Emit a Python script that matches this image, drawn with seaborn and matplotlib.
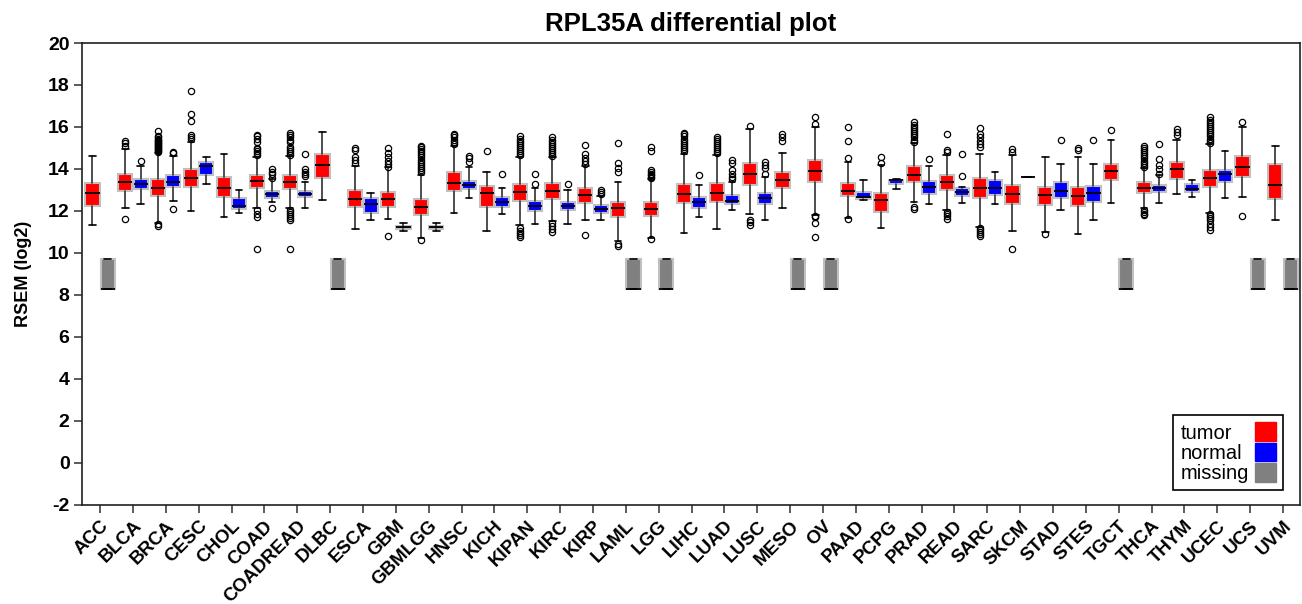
import matplotlib
matplotlib.use("Agg")
import matplotlib.pyplot as plt
from matplotlib.patches import Patch
import seaborn as sns

# ---------------- data ----------------
categories = ["ACC", "BLCA", "BRCA", "CESC", "CHOL", "COAD", "COADREAD", "DLBC", "ESCA", "GBM",
              "GBMLGG", "HNSC", "KICH", "KIPAN", "KIRC", "KIRP", "LAML", "LGG", "LIHC", "LUAD",
              "LUSC", "MESO", "OV", "PAAD", "PCPG", "PRAD", "READ", "SARC", "SKCM", "STAD",
              "STES", "TGCT", "THCA", "THYM", "UCEC", "UCS", "UVM"]

# tumor: (whisker low, q1, median, q3, whisker high)
tumor_stats = [
    (11.32, 12.25, 12.84, 13.35, 14.62), (12.13, 12.95, 13.37, 13.75, 14.95),
    (11.41, 12.71, 13.08, 13.54, 14.75), (12.00, 13.14, 13.57, 14.00, 15.30),
    (11.70, 12.65, 13.09, 13.62, 14.70), (12.13, 13.08, 13.41, 13.70, 14.59),
    (12.14, 13.07, 13.40, 13.71, 14.60), (12.52, 13.56, 14.17, 14.71, 15.76),
    (11.14, 12.18, 12.57, 13.02, 14.16), (11.62, 12.18, 12.56, 12.92, 14.08),
    (10.70, 11.83, 12.21, 12.59, 13.71), (11.92, 12.95, 13.35, 13.84, 15.11),
    (11.03, 12.18, 12.84, 13.19, 13.84), (11.33, 12.49, 12.90, 13.30, 14.59),
    (11.52, 12.59, 12.97, 13.35, 14.55), (11.59, 12.40, 12.76, 13.11, 14.16),
    (10.57, 11.70, 12.13, 12.43, 13.40), (10.70, 11.75, 12.08, 12.43, 13.51),
    (10.94, 12.37, 12.81, 13.30, 14.70), (11.16, 12.44, 12.87, 13.35, 14.67),
    (11.84, 13.24, 13.76, 14.27, 15.90), (12.13, 13.08, 13.46, 13.87, 14.76),
    (11.81, 13.40, 13.90, 14.43, 16.02), (11.68, 12.70, 12.95, 13.33, 14.32),
    (11.21, 11.95, 12.51, 12.87, 14.19), (12.41, 13.40, 13.71, 14.14, 15.22),
    (12.05, 13.00, 13.38, 13.71, 14.67), (11.25, 12.63, 13.11, 13.56, 14.71),
    (11.03, 12.35, 12.81, 13.24, 14.67), (11.02, 12.27, 12.76, 13.16, 14.56),
    (10.89, 12.24, 12.70, 13.14, 14.56), (12.38, 13.46, 13.90, 14.25, 15.37),
    (12.13, 12.86, 13.08, 13.38, 14.06), (12.83, 13.52, 13.98, 14.32, 15.40),
    (11.89, 13.16, 13.56, 13.95, 15.19), (12.67, 13.63, 14.08, 14.63, 16.02),
    (11.57, 12.57, 13.25, 14.24, 15.11),
]
tumor_outliers = [
    [],
    [15.11, 15.22, 15.33, 11.63],
    [14.80, 14.85, 14.90, 14.95, 15.00, 15.05, 15.10, 15.15, 15.20, 15.25, 15.30, 15.35, 15.40,
     15.45, 15.50, 15.55, 15.82, 11.38, 11.30],
    [15.43, 15.51, 15.62, 16.27, 16.63, 17.71],
    [],
    [14.67, 14.75, 14.85, 14.95, 15.00, 15.30, 15.45, 15.55, 15.62, 12.05, 11.84, 11.73, 10.21],
    [14.67, 14.75, 14.85, 14.95, 15.05, 15.30, 15.40, 15.50, 15.60, 15.70,
     12.05, 11.95, 11.85, 11.75, 11.65, 11.58, 10.21],
    [],
    [14.30, 14.45, 14.55, 14.90, 15.00],
    [14.11, 14.25, 14.40, 14.55, 14.75, 14.98, 10.79],
    [13.87, 13.95, 14.05, 14.15, 14.25, 14.35, 14.45, 14.55, 14.65, 14.75, 14.85, 14.95, 15.05,
     15.10, 10.63],
    [15.20, 15.30, 15.40, 15.50, 15.60, 15.65],
    [14.84],
    [14.67, 14.75, 14.85, 14.95, 15.05, 15.15, 15.25, 15.35, 15.45, 15.57,
     11.17, 11.05, 10.95, 10.85, 10.78],
    [14.62, 14.70, 14.80, 14.90, 15.00, 15.10, 15.20, 15.30, 15.40, 15.54,
     11.45, 11.30, 11.15, 11.02],
    [14.25, 14.38, 14.54, 14.70, 15.16, 10.86],
    [13.87, 14.06, 14.27, 15.25, 10.45, 10.35],
    [13.55, 13.62, 13.70, 13.78, 13.86, 13.95, 14.86, 15.06, 10.65],
    [14.86, 14.95, 15.05, 15.15, 15.25, 15.35, 15.45, 15.55, 15.65, 15.73],
    [14.75, 14.85, 14.95, 15.05, 15.15, 15.25, 15.35, 15.45, 15.52],
    [16.03, 11.57, 11.46, 11.33],
    [15.35, 15.51, 15.65],
    [16.16, 16.46, 11.78, 11.70, 11.44, 10.75],
    [14.51, 15.32, 16.00, 11.63],
    [14.27, 14.59],
    [15.30, 15.40, 15.50, 15.60, 15.70, 15.80, 15.90, 16.00, 16.10, 16.25, 12.17, 12.08],
    [14.79, 14.90, 15.65, 11.97, 11.85, 11.75, 11.62],
    [15.06, 15.20, 15.35, 15.50, 15.65, 15.94, 11.21, 11.10, 11.00, 10.90, 10.79],
    [14.79, 14.95, 10.21],
    [10.89],
    [14.92, 15.02],
    [15.86],
    [14.11, 14.20, 14.30, 14.40, 14.50, 14.60, 14.70, 14.80, 14.90, 15.00, 15.10,
     12.05, 11.95, 11.88, 11.81],
    [15.62, 15.78, 15.90],
    [15.22, 15.35, 15.45, 15.55, 15.65, 15.75, 15.85, 15.95, 16.05, 16.15, 16.25, 16.35, 16.49,
     11.84, 11.75, 11.65, 11.55, 11.40, 11.25, 11.10],
    [16.22, 11.78],
    [],
]

# normal: (whisker low, q1, median, q3, whisker high); None = missing
normal_stats = [
    None, (12.32, 13.06, 13.29, 13.54, 14.16), (12.46, 13.16, 13.38, 13.73, 14.63),
    (13.27, 13.71, 14.16, 14.32, 14.56), (11.90, 12.09, 12.25, 12.64, 13.00),
    (12.44, 12.64, 12.81, 12.94, 13.52), (12.14, 12.65, 12.83, 12.97, 13.40), None,
    (11.57, 11.92, 12.33, 12.60, 12.87), (11.06, 11.14, 11.22, 11.30, 11.41),
    (11.06, 11.14, 11.22, 11.30, 11.41), (12.60, 13.03, 13.22, 13.44, 14.08),
    (11.86, 12.21, 12.43, 12.68, 13.08), (11.40, 12.02, 12.24, 12.48, 13.08),
    (11.40, 12.03, 12.25, 12.44, 13.00), (11.59, 11.90, 12.09, 12.27, 12.73), None, None,
    (11.70, 12.14, 12.43, 12.65, 13.24), (12.05, 12.32, 12.46, 12.76, 13.37),
    (11.59, 12.33, 12.62, 12.87, 13.63), None, None, (12.52, 12.57, 12.67, 12.92, 13.48),
    (13.05, 13.30, 13.46, 13.49, 13.51), (12.32, 12.81, 13.16, 13.44, 14.14),
    (12.37, 12.73, 12.89, 13.08, 13.16), (12.35, 12.76, 13.11, 13.46, 13.86),
    (13.63, 13.63, 13.63, 13.63, 13.63), (12.06, 12.62, 12.95, 13.40, 14.22),
    (11.57, 12.44, 12.84, 13.17, 14.22), None, (12.40, 12.89, 13.10, 13.22, 13.71),
    (12.67, 12.90, 13.06, 13.29, 13.49), (12.63, 13.38, 13.75, 13.97, 14.87), None, None,
]
normal_outliers = [
    [], [14.38], [14.75, 14.80, 12.11], [], [], [13.56, 13.76, 13.87, 13.98, 12.14],
    [13.65, 13.76, 13.87, 13.98, 14.71], [], [], [], [], [14.32, 14.51, 14.63], [13.75],
    [13.30, 13.75], [13.29], [12.79, 12.89, 13.00], [], [], [13.71],
    [13.52, 13.63, 13.76, 13.95, 14.27, 14.41], [13.78, 14.05, 14.19, 14.32], [], [], [], [],
    [14.49], [13.68, 14.71], [], [], [15.37], [15.37], [], [13.78, 14.00, 14.19, 14.46, 15.21],
    [], [], [], [],
]

missing_range = (8.3, 9.7)
yticks = list(range(-2, 21, 2))

# ---------------- style ----------------
sns.set_theme(style="white")
plt.rcParams["font.family"] = ["Liberation Sans", "DejaVu Sans"]
for k in ["text.color", "axes.labelcolor", "xtick.color", "ytick.color"]:
    plt.rcParams[k] = "black"

RED, BLUE, GRAY = "#ff0000", "#0000ff", "#808080"
EDGE = "#c0c0c0"

fig = plt.figure(figsize=(13.02, 6.04), dpi=100)
ax = fig.add_axes([0.063, 0.164, 0.9355, 0.7648])

def to_dict(st, fl):
    lo, q1, med, q3, hi = st
    return dict(whislo=lo, q1=q1, med=med, q3=q3, whishi=hi, fliers=fl)

def draw(stats, positions, face):
    if not stats:
        return
    ax.bxp(stats, positions=positions, widths=0.43, capwidths=0.2, patch_artist=True,
           showfliers=True, manage_ticks=False,
           boxprops=dict(facecolor=face, edgecolor=EDGE, linewidth=1.5),
           medianprops=dict(color="black", linewidth=1.3),
           whiskerprops=dict(color="#404040", linewidth=1.3),
           capprops=dict(color="black", linewidth=1.2),
           flierprops=dict(marker="o", markerfacecolor="none", markeredgecolor="black",
                           markersize=4.5, markeredgewidth=0.9))

off = 0.232
t_stats = [to_dict(s, f) for s, f in zip(tumor_stats, tumor_outliers)]
draw(t_stats, [i - off for i in range(len(categories))], RED)

n_stats, n_pos, m_stats, m_pos = [], [], [], []
for i, (s, f) in enumerate(zip(normal_stats, normal_outliers)):
    if s is None:
        lo, hi = missing_range
        m_stats.append(to_dict((lo, lo, lo, hi, hi), []))
        m_pos.append(i + off)
    else:
        n_stats.append(to_dict(s, f))
        n_pos.append(i + off)
draw(n_stats, n_pos, BLUE)
draw(m_stats, m_pos, GRAY)

ax.set_xlim(-0.55, len(categories) - 0.48)
ax.set_ylim(yticks[0], yticks[-1])
ax.set_yticks(yticks)
ax.set_yticklabels([str(v) for v in yticks], fontsize=14, fontweight="bold")
ax.set_xticks(range(len(categories)))
ax.set_xticklabels(categories, rotation=45, ha="right", rotation_mode="anchor",
                   fontsize=13.5, fontweight="bold")
ax.tick_params(axis="both", direction="out", length=6, width=1.2, color="#404040",
               bottom=True, left=True, pad=3)
for sp in ax.spines.values():
    sp.set_color("#202020")
    sp.set_linewidth(1.2)
ax.grid(False)

ax.set_title("RPL35A differential plot", fontsize=18.5, fontweight="bold", pad=9)
ax.set_ylabel("RSEM (log2)", fontsize=13, fontweight="bold", labelpad=11)

handles = [Patch(facecolor=RED, edgecolor=RED), Patch(facecolor=BLUE, edgecolor=BLUE),
           Patch(facecolor=GRAY, edgecolor=GRAY)]
leg = ax.legend(handles, ["tumor", "normal", "missing"], loc="lower right",
                bbox_to_anchor=(0.986, 0.032), borderaxespad=0.0, markerfirst=False,
                fontsize=14.5, handlelength=1.05, handleheight=1.05, labelspacing=0.0,
                handletextpad=0.3, borderpad=0.35, fancybox=False, framealpha=1,
                edgecolor="black")
leg.get_frame().set_linewidth(1.2)

# left-align legend texts while keeping the colour squares in a right-hand column
fig.canvas.draw()
renderer = fig.canvas.get_renderer()
pt2px = renderer.points_to_pixels(1.0)
column = leg._legend_handle_box.get_children()[0]
rows = column.get_children()
widths = [row.get_children()[0].get_bbox(renderer).width for row in rows]
wmax = max(widths)
for row, w in zip(rows, widths):
    row.sep = row.sep + (wmax - w) / pt2px

fig.savefig("out.png", dpi=100)
